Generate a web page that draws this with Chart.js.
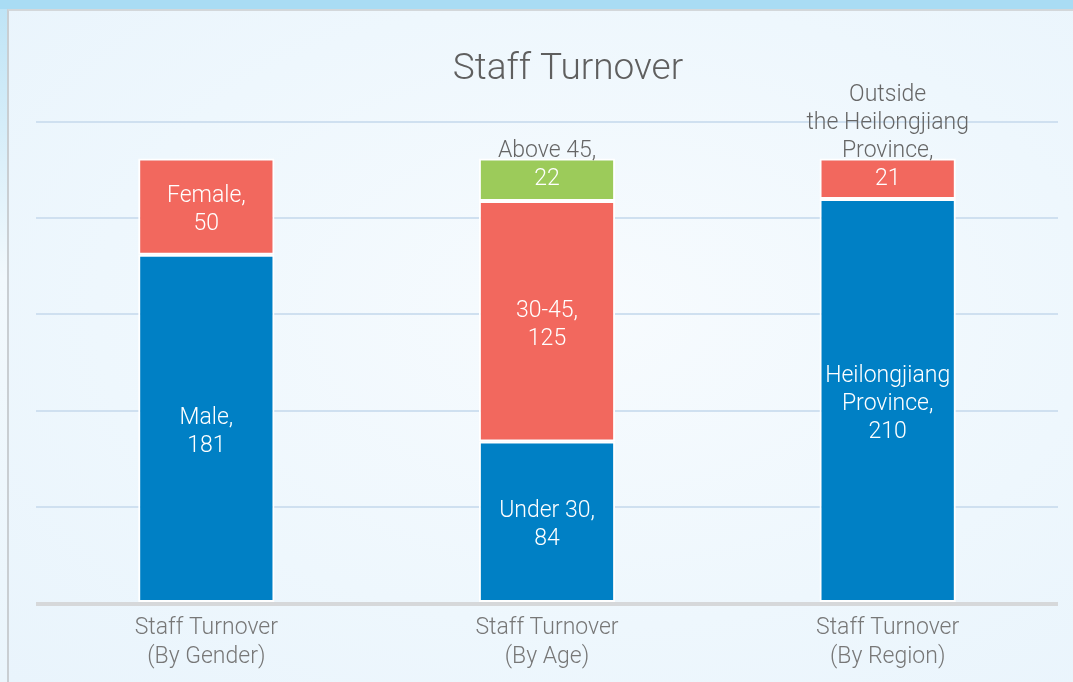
<!DOCTYPE html>
<html>
<head>
<meta charset="utf-8">
<script src="https://cdn.jsdelivr.net/npm/chart.js@4/dist/chart.umd.min.js"></script>
<style>
  html, body { margin: 0; padding: 0; }
  body {
    width: 1073px; height: 682px; overflow: hidden; position: relative;
    background: #a9dcf4;
    font-family: Roboto, "Liberation Sans", sans-serif;
  }
  #strip {
    position: absolute; left: 0; top: 9px; width: 7px; height: 673px;
    background: linear-gradient(#bfe4f6, #f2f9fd 40%, #eaf5fc);
  }
  #panel {
    position: absolute; left: 7px; top: 9px; right: 0; bottom: 0;
    border-left: 2px solid #c9ced2; border-top: 2px solid #d3d7da;
    background: radial-gradient(ellipse at 55% 45%, #f7fbfe 0%, #eef7fd 60%, #e9f4fc 100%);
  }
  #wrap { position: absolute; left: 0; top: 0; width: 1073px; height: 682px; }
</style>
</head>
<body>
<div id="strip"></div>
<div id="panel"></div>
<div id="wrap"><canvas id="chart" width="1073" height="682"></canvas></div>
<script>
const titleText = 'Staff Turnover';
const categories = [
  ['Staff Turnover', '(By Gender)'],
  ['Staff Turnover', '(By Age)'],
  ['Staff Turnover', '(By Region)']
];

// stacked segments, bottom to top
const bottomValues = [181, 84, 210];
const middleValues = [50, 125, 21];
const topValues = [null, 22, null];

const bottomNames = [['Male,'], ['Under 30,'], ['Heilongjiang', 'Province,']];
const middleNames = [['Female,'], ['30-45,'], ['Outside', 'the Heilongjiang', 'Province,']];
const topNames = [[], ['Above 45,'], []];

const blue = '#0080c5';
const red = '#f2685e';
const green = '#9ccb5a';
const grey = '#666666';
const fontStack = 'Roboto, "Liberation Sans", sans-serif';

const segNames = [bottomNames, middleNames, topNames];

const labelPlugin = {
  id: 'segLabels',
  afterDatasetsDraw(chart) {
    const ctx = chart.ctx;
    const lh = 28;
    ctx.save();
    ctx.font = '300 23px ' + fontStack;
    ctx.textAlign = 'center';
    ctx.textBaseline = 'middle';
    chart.data.datasets.forEach((ds, di) => {
      const meta = chart.getDatasetMeta(di);
      meta.data.forEach((bar, i) => {
        const v = ds.data[i];
        if (v == null) return;
        const lines = segNames[di][i].concat([String(v)]);
        const top = Math.min(bar.y, bar.base);
        const bottom = Math.max(bar.y, bar.base);
        const h = bottom - top;
        const mid = (top + bottom) / 2;
        let y0;
        if (lines.length * lh > h) {
          // value line stays in the segment, names go above it
          y0 = mid - (lines.length - 1) * lh;
        } else {
          y0 = mid - (lines.length - 1) * lh / 2 + 4;
        }
        lines.forEach((t, k) => {
          const y = y0 + k * lh;
          ctx.fillStyle = (y > top && y < bottom) ? '#ffffff' : grey;
          ctx.fillText(t, bar.x, y);
        });
      });
    });
    ctx.restore();
  }
};

const framePlugin = {
  id: 'frame',
  beforeDatasetsDraw(chart) {
    const ctx = chart.ctx;
    const a = chart.chartArea;
    ctx.save();
    ctx.strokeStyle = '#d6d8da';
    ctx.lineWidth = 4;
    ctx.beginPath();
    ctx.moveTo(a.left, a.bottom + 1);
    ctx.lineTo(a.right, a.bottom + 1);
    ctx.stroke();
    ctx.restore();
  },
  afterDraw(chart) {
    const ctx = chart.ctx;
    const a = chart.chartArea;
    ctx.save();
    ctx.font = '300 37px ' + fontStack;
    ctx.fillStyle = '#5f5f5f';
    ctx.textAlign = 'center';
    ctx.textBaseline = 'middle';
    ctx.fillText(titleText, (a.left + a.right) / 2 + 21, a.top - 52);
    ctx.restore();
  }
};

new Chart(document.getElementById('chart'), {
  type: 'bar',
  data: {
    labels: categories,
    datasets: [
      { data: bottomValues, backgroundColor: blue },
      { data: middleValues, backgroundColor: red },
      { data: topValues, backgroundColor: green }
    ]
  },
  options: {
    responsive: false,
    animation: false,
    layout: { padding: { left: 36, right: 15, top: 122, bottom: 0 } },
    datasets: {
      bar: {
        barPercentage: 0.4,
        categoryPercentage: 1,
        borderColor: '#ffffff',
        borderWidth: 2,
        borderSkipped: false
      }
    },
    plugins: { legend: { display: false }, tooltip: { enabled: false } },
    scales: {
      x: {
        stacked: true,
        grid: { display: false, drawTicks: false },
        border: { display: false },
        afterFit(scale) { scale.height = 79; },
        ticks: {
          color: '#777777',
          padding: 11,
          font: { family: fontStack, size: 23, weight: '300', lineHeight: 1.26 }
        }
      },
      y: {
        stacked: true,
        min: 0,
        max: 250,
        display: true,
        ticks: { display: false, stepSize: 50 },
        border: { display: false },
        grid: {
          color: (c) => c.tick.value === 0 ? 'rgba(0,0,0,0)' : '#cfe0f0',
          lineWidth: 2,
          drawTicks: false
        },
        afterFit(scale) { scale.width = 0; }
      }
    }
  },
  plugins: [framePlugin, labelPlugin]
});
</script>
</body>
</html>
